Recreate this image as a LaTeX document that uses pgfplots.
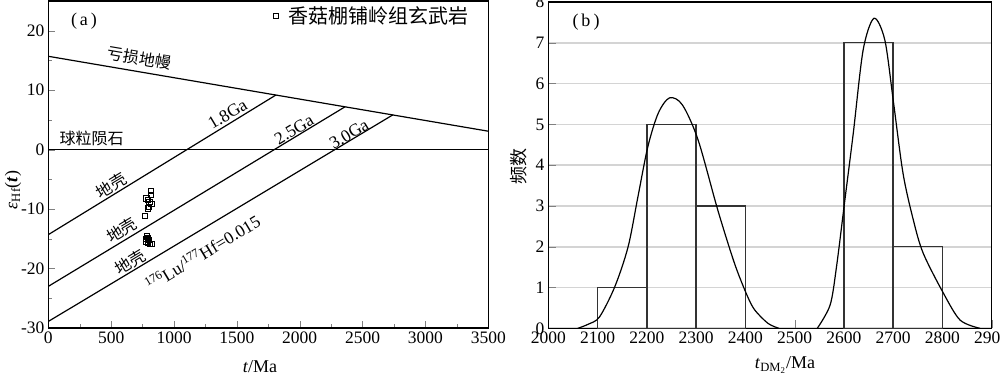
\documentclass[border=0pt]{standalone}
\usepackage{pgfplots}
\pgfplotsset{compat=1.18}
\usepackage{fontspec}
\setmainfont{Liberation Serif}
\newfontfamily\cjk{Noto Sans CJK SC}
\definecolor{gridgray}{RGB}{212,212,212}
\begin{document}
\begin{tikzpicture}[x=1pt,y=1pt]
\path[use as bounding box] (0,0) rectangle (1000,378);
\pgfplotsset{
  every axis/.append style={
    scale only axis,
    line width=1.2pt,
    tick align=inside,
    tick pos=left,
    major tick length=7pt,
    minor tick length=4pt,
    /pgf/number format/1000 sep={},
    /pgf/number format/assume math mode=true,
    tick label style={font=\fontsize{17.5}{17.5}\selectfont},
  },
}
% ---------------- left panel (a) ----------------
\begin{axis}[
  at={(48.3pt,50pt)}, anchor=south west,
  width=440pt, height=327pt,
  xmin=0, xmax=3500, ymin=-30, ymax=25,
  xtick={0,500,1000,1500,2000,2500,3000,3500},
  minor xtick={250,750,1250,1750,2250,2750,3250},
  ytick={-30,-20,-10,0,10,20},
  yticklabels={-30,-20,-10,0,10,20},
  minor ytick={-25,-15,-5,5,15},
  legend style={draw=none, fill=none, at={(0.508,0.955)}, anchor=west,
    font=\cjk\fontsize{20}{20}\selectfont, inner sep=0pt},
  legend cell align=left,
  legend image code/.code={\path (0cm,0cm) (0.45cm,0cm);\draw[mark=square, mark size=2.6pt, line width=0.9pt] plot coordinates {(0.1cm,0cm)};},
]
\addplot[only marks, mark=square, mark size=2.6pt, mark options={line width=0.9pt}] coordinates {
(815,-7.0)(818,-7.6)(780,-8.2)(790,-8.5)(805,-8.8)(820,-9.2)(800,-9.6)(795,-9.9)(770,-11.1)
(785,-14.5)(790,-14.8)(775,-15.0)(800,-15.2)(780,-15.5)(795,-15.6)(810,-15.8)(820,-15.9)
};
\addlegendentry{香菇棚铺岭组玄武岩}
\addplot[no marks, line width=1.2pt, forget plot] coordinates {(0,15.7)(3500,3.1)};
\addplot[no marks, line width=1.2pt, forget plot] coordinates {(0,0)(3500,0)};
\addplot[no marks, line width=1.2pt, forget plot] coordinates {(0,-14.3)(1810,9.18)};
\addplot[no marks, line width=1.2pt, forget plot] coordinates {(0,-23.0)(2360,7.2)};
\addplot[no marks, line width=1.2pt, forget plot] coordinates {(0,-28.9)(2740,5.84)};
\node[rotate=-9.7, font=\cjk\fontsize{16}{16}\selectfont] at (axis cs:725,15.4) {亏损地幔};
\node[font=\cjk\fontsize{16}{16}\selectfont] at (axis cs:344,1.95) {球粒陨石};
\node[rotate=31, font=\fontsize{17.5}{17.5}\selectfont] at (axis cs:1426,5.97) {1.8Ga};
\node[rotate=31, font=\fontsize{17.5}{17.5}\selectfont] at (axis cs:1955,3.36) {2.5Ga};
\node[rotate=31, font=\fontsize{17.5}{17.5}\selectfont] at (axis cs:2392,2.6) {3.0Ga};
\node[rotate=31, font=\cjk\fontsize{16}{16}\selectfont] at (axis cs:503,-6.05) {地壳};
\node[rotate=31, font=\cjk\fontsize{16}{16}\selectfont] at (axis cs:584,-13.6) {地壳};
\node[rotate=31, font=\cjk\fontsize{16}{16}\selectfont] at (axis cs:650,-18.9) {地壳};
\node[rotate=31, font=\fontsize{17.5}{17.5}\selectfont] at (axis cs:1227,-17.3) {\textsuperscript{176}Lu/\textsuperscript{177}Hf=0.015};
\end{axis}
\node[font=\fontsize{18}{18}\selectfont] at (84,357) {(\,a\,)};
\node[rotate=90, font=\fontsize{18}{18}\selectfont] at (13,188) {\textit{ε}\textsubscript{Hf}(\textbf{\textit{t}})};
\node[font=\fontsize{18}{18}\selectfont] at (260,11) {\textit{t}/Ma};
% ---------------- right panel (b) ----------------
\begin{axis}[
  at={(548.3pt,49.7pt)}, anchor=south west,
  width=443.4pt, height=326.3pt,
  xmin=2000, xmax=2900, ymin=0, ymax=8,
  xtick={2000,2100,...,2900},
  ytick={0,1,...,8},
  major tick length=8pt,
  ymajorgrids, grid style={gridgray, line width=1.7pt},
]
\addplot[ybar, bar width=100, bar shift=0pt, draw=black!80, fill=none, line width=1.4pt] coordinates {(2150,1)(2250,5)(2350,3)(2650,7)(2750,2)};
\addplot[smooth, no marks, line width=1.2pt] coordinates {
(2060,0)(2081,0.1)(2104,0.28)(2135,1.02)(2162,2.0)(2182,3.23)(2202,4.45)(2223,5.27)(2246,5.65)(2272,5.48)(2304,4.62)(2344,2.9)(2378,1.59)(2403,0.82)(2419,0.45)(2446,0.12)(2468,0)
};
\addplot[smooth, no marks, line width=1.2pt] coordinates {
(2546,0)(2572,0.57)(2585,1.51)(2602,3.15)(2619,4.78)(2639,6.82)(2661,7.6)(2683,7.07)(2700,5.6)(2720,3.8)(2741,2.65)(2761,1.84)(2802,0.86)(2836,0.2)(2876,0)
};
\end{axis}
\node[font=\fontsize{18}{18}\selectfont] at (586,356) {(\,b\,)};
\node[rotate=90, font=\cjk\fontsize{18}{18}\selectfont] at (519,211) {频数};
\node[font=\fontsize{18}{18}\selectfont] at (785,13) {\textit{t}\textsubscript{DM\textsubscript{2}}/Ma};
\end{tikzpicture}
\end{document}
